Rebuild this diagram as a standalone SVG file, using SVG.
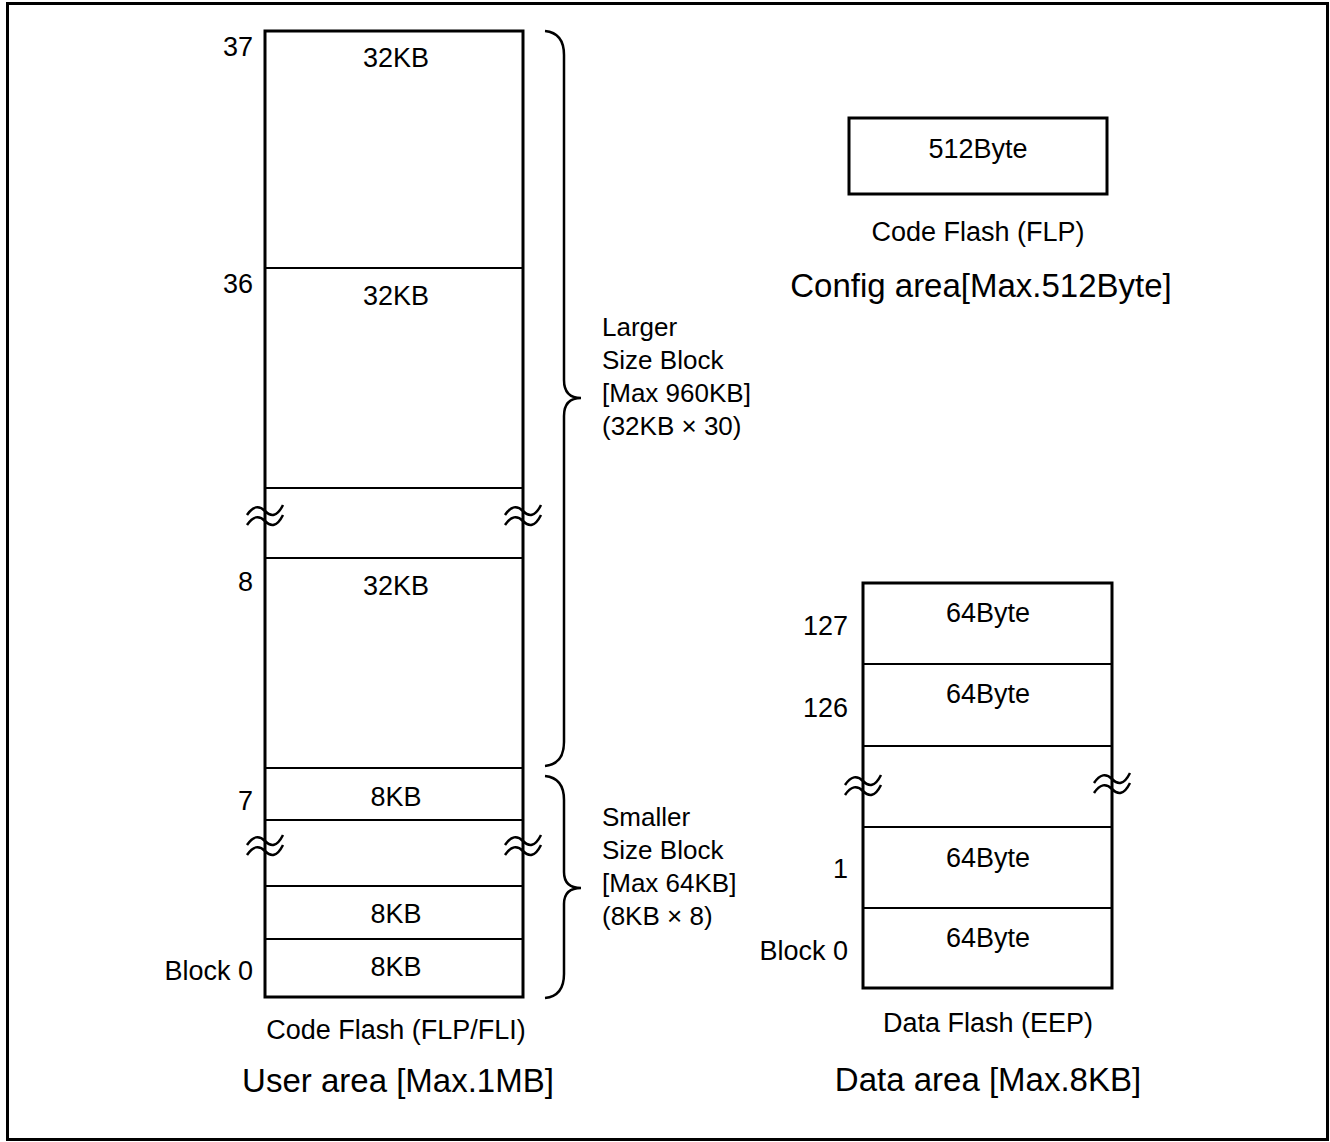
<svg xmlns="http://www.w3.org/2000/svg" width="1330" height="1142" viewBox="0 0 1330 1142">
<style>
text{font-family:"Liberation Sans",Arial,sans-serif;fill:#000}
.t{font-size:27px}
.s{font-size:26px}
.b{font-size:33px}
.m{text-anchor:middle}
.r{text-anchor:end}
.box{fill:#fff;stroke:#000;stroke-width:3}
.div{stroke:#000;stroke-width:2;fill:none}
.brace{fill:none;stroke:#000;stroke-width:2.5}
.wave{fill:none;stroke:#000;stroke-width:2.5}
</style>
<defs>
<g id="w">
<path class="wave" d="M-18,4 C-12,-5 -6,-6 0,0 S12,6 18,-6"/>
<path class="wave" d="M-18,14 C-12,5 -6,4 0,10 S12,16 18,4"/>
</g>
</defs>
<rect x="7.5" y="3.5" width="1320" height="1136" fill="#fff" stroke="#000" stroke-width="3"/>

<g id="code-flash">
<rect class="box" x="265" y="31" width="258" height="966"/>
<line class="div" x1="265" y1="268" x2="523" y2="268"/>
<line class="div" x1="265" y1="488" x2="523" y2="488"/>
<line class="div" x1="265" y1="558" x2="523" y2="558"/>
<line class="div" x1="265" y1="768" x2="523" y2="768"/>
<line class="div" x1="265" y1="820" x2="523" y2="820"/>
<line class="div" x1="265" y1="886" x2="523" y2="886"/>
<line class="div" x1="265" y1="939" x2="523" y2="939"/>
<use href="#w" x="265" y="511"/>
<use href="#w" x="523" y="511"/>
<use href="#w" x="265" y="841"/>
<use href="#w" x="523" y="841"/>
<text class="t m" x="396" y="67">32KB</text>
<text class="t m" x="396" y="305">32KB</text>
<text class="t m" x="396" y="595">32KB</text>
<text class="t m" x="396" y="806">8KB</text>
<text class="t m" x="396" y="923">8KB</text>
<text class="t m" x="396" y="976">8KB</text>
<text class="t r" x="253" y="56">37</text>
<text class="t r" x="253" y="293">36</text>
<text class="t r" x="253" y="591">8</text>
<text class="t r" x="253" y="810">7</text>
<text class="t r" x="253" y="980">Block 0</text>
<text class="t m" x="396" y="1039">Code Flash (FLP/FLI)</text>
<text class="b m" x="398" y="1092">User area [Max.1MB]</text>
</g>

<g id="larger-brace">
<path class="brace" d="M545,31 Q564,33 564,55 L564,380 Q564,398 581,398 Q564,398 564,416 L564,742 Q564,764 545,766"/>
<text class="s" x="602" y="336">Larger</text>
<text class="s" x="602" y="369">Size Block</text>
<text class="s" x="602" y="402">[Max 960KB]</text>
<text class="s" x="602" y="435">(32KB × 30)</text>
</g>

<g id="smaller-brace">
<path class="brace" d="M545,776 Q564,778 564,800 L564,872 Q564,888 581,888 Q564,888 564,904 L564,974 Q564,996 545,998"/>
<text class="s" x="602" y="826">Smaller</text>
<text class="s" x="602" y="859">Size Block</text>
<text class="s" x="602" y="892">[Max 64KB]</text>
<text class="s" x="602" y="925">(8KB × 8)</text>
</g>

<g id="config">
<rect class="box" x="849" y="118" width="258" height="76"/>
<text class="t m" x="978" y="158">512Byte</text>
<text class="t m" x="978" y="241">Code Flash (FLP)</text>
<text class="b m" x="981" y="297">Config area[Max.512Byte]</text>
</g>

<g id="data-flash">
<rect class="box" x="863" y="583" width="249" height="405"/>
<line class="div" x1="863" y1="664" x2="1112" y2="664"/>
<line class="div" x1="863" y1="746" x2="1112" y2="746"/>
<line class="div" x1="863" y1="827" x2="1112" y2="827"/>
<line class="div" x1="863" y1="908" x2="1112" y2="908"/>
<use href="#w" x="863" y="781"/>
<use href="#w" x="1112" y="779"/>
<text class="t m" x="988" y="622">64Byte</text>
<text class="t m" x="988" y="703">64Byte</text>
<text class="t m" x="988" y="867">64Byte</text>
<text class="t m" x="988" y="947">64Byte</text>
<text class="t r" x="848" y="635">127</text>
<text class="t r" x="848" y="717">126</text>
<text class="t r" x="848" y="878">1</text>
<text class="t r" x="848" y="960">Block 0</text>
<text class="t m" x="988" y="1032">Data Flash (EEP)</text>
<text class="b m" x="988" y="1091">Data area [Max.8KB]</text>
</g>
</svg>
